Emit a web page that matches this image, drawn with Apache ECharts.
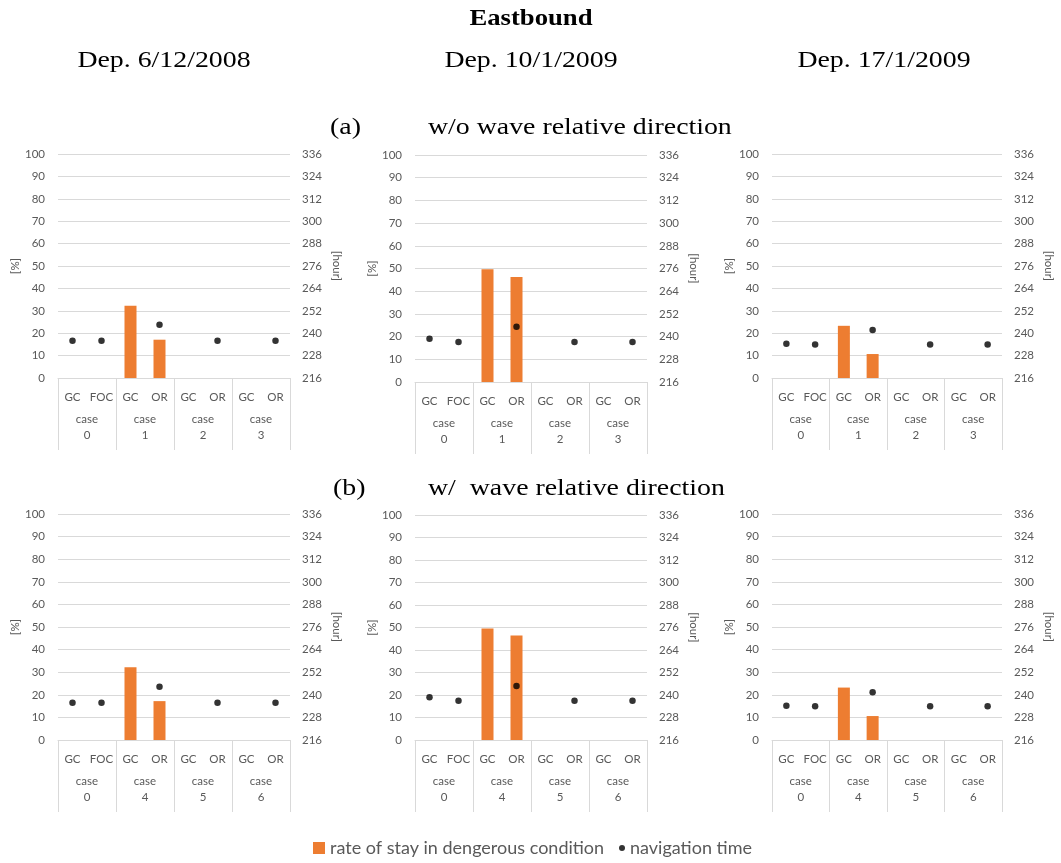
<!DOCTYPE html>
<html>
<head>
<meta charset="utf-8">
<script src="https://cdn.jsdelivr.net/npm/echarts@6/dist/echarts.min.js"></script>
<style>
html,body{margin:0;padding:0;background:#fff;}
#chart{width:1061px;height:863px;}
</style>
</head>
<body>
<div id="chart"></div>
<script>
// ---- data ----
const categories = ['GC', 'FOC', 'GC', 'OR', 'GC', 'OR', 'GC', 'OR'];
const casesA = ['case\n0', 'case\n1', 'case\n2', 'case\n3'];
const casesB = ['case\n0', 'case\n4', 'case\n5', 'case\n6'];
const departures = ['Dep. 6/12/2008', 'Dep. 10/1/2009', 'Dep. 17/1/2009'];
const seriesNames = ['rate of stay in dengerous condition', 'navigation time'];

// rate of stay in dangerous condition [%]
const rateA1 = [null, null, 32.3, 17.1, null, null, null, null];
const rateA2 = [null, null, 49.7, 46.3, null, null, null, null];
const rateA3 = [null, null, 23.3, 10.7, null, null, null, null];
const rateB1 = [null, null, 32.2, 17.2, null, null, null, null];
const rateB2 = [null, null, 49.6, 46.4, null, null, null, null];
const rateB3 = [null, null, 23.2, 10.6, null, null, null, null];

// navigation time [hour]
const timeA1 = [235.9, 235.9, null, 244.5, null, 235.9, null, 235.9];
const timeA2 = [238.9, 237.1, null, 245.2, null, 237.1, null, 237.1];
const timeA3 = [234.4, 234.0, null, 241.7, null, 234.0, null, 234.0];
const timeB1 = [235.8, 235.8, null, 244.3, null, 235.8, null, 235.8];
const timeB2 = [238.8, 237.0, null, 244.8, null, 237.0, null, 237.0];
const timeB3 = [234.2, 233.9, null, 241.3, null, 233.9, null, 233.9];

// axis ticks
const pctMin = 0, pctMax = 100, pctStep = 10;
const hourMin = 216, hourMax = 336, hourStep = 12;

// ---- layout ----
const panels = [
  {rate: rateA1, time: timeA1, cases: casesA, left: 58,  top: 154, width: 232, height: 224},
  {rate: rateA2, time: timeA2, cases: casesA, left: 415, top: 155, width: 232, height: 227},
  {rate: rateA3, time: timeA3, cases: casesA, left: 772, top: 154, width: 230, height: 224},
  {rate: rateB1, time: timeB1, cases: casesB, left: 58,  top: 514, width: 232, height: 226},
  {rate: rateB2, time: timeB2, cases: casesB, left: 415, top: 515, width: 232, height: 225},
  {rate: rateB3, time: timeB3, cases: casesB, left: 772, top: 514, width: 230, height: 226}
];

const txt = '#595959';
const lineC = '#d9d9d9';
const sansFont = 'Lato';

const grids = [], xAxes = [], yAxes = [], series = [];
panels.forEach((p, i) => {
  grids.push({left: p.left, top: p.top, width: p.width, height: p.height});
  xAxes.push({
    type: 'category', gridIndex: i, data: categories, position: 'bottom',
    axisLine: {show: true, lineStyle: {color: lineC, width: 1}},
    axisTick: {show: false},
    axisLabel: {interval: 0, margin: 13, color: txt, fontSize: 11.5, fontFamily: sansFont}
  });
  xAxes.push({
    type: 'category', gridIndex: i, data: p.cases, position: 'bottom', boundaryGap: true,
    axisLine: {show: false},
    axisTick: {show: true, interval: 0, length: 72, lineStyle: {color: lineC, width: 1}},
    axisLabel: {interval: 0, margin: 33, color: txt, fontSize: 11.5, lineHeight: 16, fontFamily: sansFont}
  });
  yAxes.push({
    type: 'value', gridIndex: i, min: pctMin, max: pctMax, interval: pctStep, position: 'left',
    axisLine: {show: false}, axisTick: {show: false},
    splitLine: {show: true, lineStyle: {color: lineC, width: 1}},
    axisLabel: {margin: 13, color: txt, fontSize: 11.5, fontFamily: sansFont},
    name: '[%]', nameLocation: 'middle', nameGap: 37, nameRotate: 90,
    nameTextStyle: {color: txt, fontSize: 11.5, fontFamily: sansFont}
  });
  yAxes.push({
    type: 'value', gridIndex: i, min: hourMin, max: hourMax, interval: hourStep, position: 'right',
    axisLine: {show: false}, axisTick: {show: false}, splitLine: {show: false},
    axisLabel: {margin: 12, color: txt, fontSize: 11.5, fontFamily: sansFont},
    name: '[hour]', nameLocation: 'middle', nameGap: 41, nameRotate: -90,
    nameTextStyle: {color: txt, fontSize: 11.5, fontFamily: sansFont}
  });
  series.push({
    name: seriesNames[0], type: 'bar', xAxisIndex: 2 * i, yAxisIndex: 2 * i,
    data: p.rate, barWidth: 12, itemStyle: {color: '#ed7d31'}, silent: true
  });
  series.push({
    name: seriesNames[1], type: 'scatter', xAxisIndex: 2 * i, yAxisIndex: 2 * i + 1,
    data: p.time, symbol: 'circle', symbolSize: 6.5, itemStyle: {color: '#000000'}, silent: true, z: 5
  });
});

const serif = '"Liberation Serif", "Times New Roman", serif';
function t(text, x, y, size, bold, align) {
  return {type: 'text', x: x, y: y, scaleX: 1.16, silent: true,
    style: {text: text, align: align || 'center', verticalAlign: 'middle',
      font: (bold ? 'bold ' : '') + size + 'px ' + serif, fill: '#000'}};
}
const graphics = [
  t('Eastbound', 531, 19, 23, true),
  t(departures[0], 164, 61, 24, false),
  t(departures[1], 531, 61, 24, false),
  t(departures[2], 884, 61, 24, false),
  t('(a)', 330, 128, 24, false, 'left'),
  t('w/o wave relative direction', 428, 128, 24, false, 'left'),
  t('(b)', 333, 489, 24, false, 'left'),
  t('w/  wave relative direction', 428, 489, 24, false, 'left')
];

const chart = echarts.init(document.getElementById('chart'), null, {renderer: 'canvas'});
chart.setOption({
  animation: false,
  backgroundColor: '#ffffff',
  grid: grids,
  xAxis: xAxes,
  yAxis: yAxes,
  series: series,
  graphic: graphics,
  legend: [
    {data: [{name: seriesNames[0], icon: 'rect'}], left: 313, top: 839, padding: 0, itemWidth: 12, itemHeight: 12,
     selectedMode: false, textStyle: {color: txt, fontSize: 18, fontFamily: sansFont}},
    {data: [{name: seriesNames[1], icon: 'circle'}], left: 619, top: 839, padding: 0, itemWidth: 6, itemHeight: 6,
     selectedMode: false, textStyle: {color: txt, fontSize: 18, fontFamily: sansFont}}
  ]
});
</script>
</body>
</html>
